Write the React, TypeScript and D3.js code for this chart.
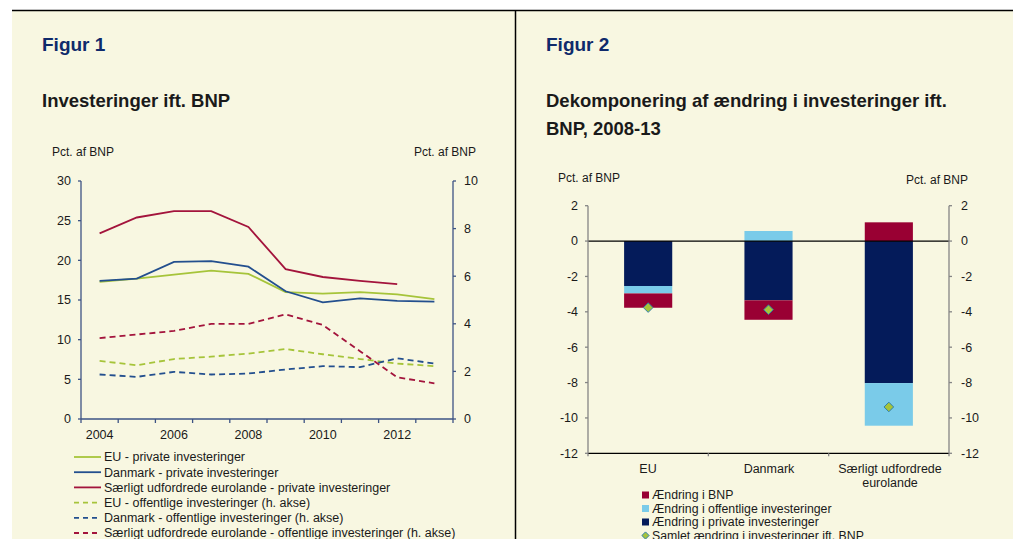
import React from 'react';
import * as d3 from 'd3';

const years = ['2004', '2005', '2006', '2007', '2008', '2009', '2010', '2011', '2012', '2013'];
const yearLabels = ['2004', '2006', '2008', '2010', '2012'];

// private investeringer (left axis), pct. af BNP
const euPrivate = [17.3, 17.7, 18.2, 18.7, 18.3, 16.0, 15.8, 16.0, 15.7, 15.1];
const dkPrivate = [17.4, 17.7, 19.8, 19.9, 19.2, 16.1, 14.7, 15.2, 14.9, 14.8];
const sePrivate = [23.4, 25.4, 26.2, 26.2, 24.2, 18.9, 17.9, 17.4, 17.0, null];
// offentlige investeringer (right axis)
const euPublic = [2.44, 2.26, 2.52, 2.62, 2.75, 2.94, 2.72, 2.52, 2.33, 2.22];
const dkPublic = [1.87, 1.77, 1.98, 1.87, 1.91, 2.08, 2.22, 2.18, 2.55, 2.33];
const sePublic = [3.4, 3.55, 3.7, 4.0, 4.0, 4.4, 3.95, 2.85, 1.75, 1.5];

const leftTicks = [0, 5, 10, 15, 20, 25, 30];
const rightTicks = [0, 2, 4, 6, 8, 10];

// Figur 2
const groups = ['EU', 'Danmark', 'Særligt udfordrede eurolande'];
const chgPrivate = [-2.54, -3.35, -8.03];
const chgPublic = [-0.42, 0.57, -2.41];
const chgBNP = [-0.81, -1.1, 1.06];
const chgTotal = [-3.76, -3.88, -9.38];
const barTicks = [2, 0, -2, -4, -6, -8, -10, -12];

const C = {
  bg: '#f8f7e1',
  green: '#a6c43a',
  blue: '#234f8e',
  red: '#a3143c',
  navy: '#041b5a',
  light: '#7acbe9',
  burgundy: '#990033',
  axis1: '#3d5384',
  axis2: '#858585',
  text: '#1a1a1a',
  title: '#0f2a6b',
};

const font = 'Arial, "Liberation Sans", sans-serif';

// diamond marker: square turned 45 degrees
const diamondPath = (r: number) => `M0,${-r}L${r},0L0,${r}L${-r},0Z`;

function Figure1() {
  const x = d3.scaleBand().domain(years).range([81, 453]);
  const yL = d3.scaleLinear().domain([0, 30]).range([419, 181]);
  const yR = d3.scaleLinear().domain([0, 10]).range([419, 181]);
  const cx = (i: number) => (x(years[i]) as number) + x.bandwidth() / 2;

  const mk = (vals: (number | null)[], y: d3.ScaleLinear<number, number>) =>
    d3.line<number | null>()
      .defined((d) => d !== null)
      .x((_, i) => cx(i))
      .y((d) => y(d as number))(vals) as string;

  const series = [
    { name: 'EU - private investeringer', vals: euPrivate, y: yL, color: C.green, dash: false },
    { name: 'Danmark - private investeringer', vals: dkPrivate, y: yL, color: C.blue, dash: false },
    { name: 'Særligt udfordrede eurolande - private investeringer', vals: sePrivate, y: yL, color: C.red, dash: false },
    { name: 'EU - offentlige investeringer (h. akse)', vals: euPublic, y: yR, color: C.green, dash: true },
    { name: 'Danmark - offentlige investeringer (h. akse)', vals: dkPublic, y: yR, color: C.blue, dash: true },
    { name: 'Særligt udfordrede eurolande - offentlige investeringer (h. akse)', vals: sePublic, y: yR, color: C.red, dash: true },
  ];

  const bounds = years.map((yr) => x(yr) as number).concat([453]);

  return (
    <g fontFamily={font}>
      <text x={42} y={51} fontSize={19} fontWeight="bold" fill={C.title}>Figur 1</text>
      <text x={42} y={107} fontSize={18.5} fontWeight="bold" fill={C.text}>Investeringer ift. BNP</text>
      <text x={52} y={156} fontSize={12} fill={C.text}>Pct. af BNP</text>
      <text x={476} y={156} fontSize={12} fill={C.text} textAnchor="end">Pct. af BNP</text>

      {/* axes */}
      <line x1={81} x2={81} y1={181} y2={419} stroke={C.axis1} strokeWidth={1.3} />
      <line x1={453} x2={453} y1={181} y2={419} stroke={C.axis1} strokeWidth={1.3} />
      <line x1={81} x2={453} y1={419} y2={419} stroke={C.axis1} strokeWidth={1.3} />
      {leftTicks.map((t) => (
        <g key={'l' + t}>
          <line x1={78} x2={81} y1={yL(t)} y2={yL(t)} stroke={C.axis1} strokeWidth={1.3} />
          <text x={71} y={yL(t)} dy="0.35em" textAnchor="end" fontSize={12.5} fill={C.text}>{t}</text>
        </g>
      ))}
      {rightTicks.map((t) => (
        <g key={'r' + t}>
          <line x1={453} x2={456} y1={yR(t)} y2={yR(t)} stroke={C.axis1} strokeWidth={1.3} />
          <text x={464} y={yR(t)} dy="0.35em" fontSize={12.5} fill={C.text}>{t}</text>
        </g>
      ))}
      {bounds.map((b, i) => (
        <line key={'b' + i} x1={b} x2={b} y1={419} y2={423} stroke={C.axis1} strokeWidth={1.3} />
      ))}
      {yearLabels.map((yr) => (
        <text key={yr} x={(x(yr) as number) + x.bandwidth() / 2} y={439} textAnchor="middle" fontSize={12.5} fill={C.text}>{yr}</text>
      ))}

      {series.map((s) => (
        <path key={s.name} d={mk(s.vals, s.y)} fill="none" stroke={s.color} strokeWidth={1.8}
          strokeDasharray={s.dash ? '6,4' : undefined} />
      ))}

      {/* legend */}
      {series.map((s, i) => {
        const ly = 457 + i * 15.2;
        return (
          <g key={'lg' + i}>
            <line x1={74} x2={101} y1={ly} y2={ly} stroke={s.color} strokeWidth={1.8}
              strokeDasharray={s.dash ? '5,4' : undefined} />
            <text x={104} y={ly} dy="0.35em" fontSize={12.5} fill={C.text}>{s.name}</text>
          </g>
        );
      })}
    </g>
  );
}

function Figure2() {
  const x = d3.scaleBand().domain(groups).range([588, 949]);
  const y = d3.scaleLinear().domain([-12, 2]).range([453.3, 205.7]);
  const barW = x.bandwidth() * 0.4;

  const rows = groups.map((g, i) => ({ group: g, priv: chgPrivate[i], pub: chgPublic[i], bnp: chgBNP[i] }));
  const keys = ['priv', 'pub', 'bnp'];
  const colors: Record<string, string> = { priv: C.navy, pub: C.light, bnp: C.burgundy };
  const stacked = d3.stack<any>().keys(keys).offset(d3.stackOffsetDiverging)(rows);

  const bounds = groups.map((g) => x(g) as number).concat([949]);

  const legend = [
    { label: 'Ændring i BNP', color: C.burgundy },
    { label: 'Ændring i offentlige investeringer', color: C.light },
    { label: 'Ændring i private investeringer', color: C.navy },
  ];

  return (
    <g fontFamily={font}>
      <text x={546} y={51} fontSize={19} fontWeight="bold" fill={C.title}>Figur 2</text>
      <text x={546} y={107} fontSize={18.5} fontWeight="bold" fill={C.text}>Dekomponering af ændring i investeringer ift.</text>
      <text x={546} y={135} fontSize={18.5} fontWeight="bold" fill={C.text}>BNP, 2008-13</text>
      <text x={558} y={182} fontSize={12} fill={C.text}>Pct. af BNP</text>
      <text x={968} y={184} fontSize={12} fill={C.text} textAnchor="end">Pct. af BNP</text>

      {stacked.map((s) => (
        <g key={s.key} fill={colors[s.key]}>
          {s.map((d, i) => {
            const cxp = (x(groups[i]) as number) + x.bandwidth() / 2;
            return (
              <rect key={i} x={cxp - barW / 2} width={barW}
                y={y(Math.max(d[0], d[1]))} height={Math.abs(y(d[0]) - y(d[1]))} />
            );
          })}
        </g>
      ))}

      <line x1={588} x2={949} y1={y(0)} y2={y(0)} stroke="#000" strokeWidth={1.2} />
      <line x1={588} x2={949} y1={y(-12)} y2={y(-12)} stroke="#000" strokeWidth={1.2} />
      <line x1={588} x2={588} y1={y(2)} y2={y(-12)} stroke={C.axis2} strokeWidth={1.3} />
      <line x1={949} x2={949} y1={y(2)} y2={y(-12)} stroke={C.axis2} strokeWidth={1.3} />
      {barTicks.map((t) => (
        <g key={'t' + t}>
          <line x1={585} x2={588} y1={y(t)} y2={y(t)} stroke={C.axis2} strokeWidth={1.3} />
          <line x1={949} x2={952} y1={y(t)} y2={y(t)} stroke={C.axis2} strokeWidth={1.3} />
          <text x={578} y={y(t)} dy="0.35em" textAnchor="end" fontSize={12.5} fill={C.text}>{t}</text>
          <text x={961} y={y(t)} dy="0.35em" fontSize={12.5} fill={C.text}>{t}</text>
        </g>
      ))}
      {bounds.map((b, i) => (
        <line key={'b' + i} x1={b} x2={b} y1={y(-12)} y2={y(-12) + 3} stroke={C.axis2} strokeWidth={1.3} />
      ))}

      {chgTotal.map((v, i) => (
        <path key={'d' + i} d={diamondPath(4.8)}
          transform={`translate(${(x(groups[i]) as number) + x.bandwidth() / 2},${y(v)})`}
          fill={C.green} stroke="#2f7fa8" strokeWidth={1} />
      ))}

      <text x={648} y={473} textAnchor="middle" fontSize={12.5} fill={C.text}>EU</text>
      <text x={769} y={473} textAnchor="middle" fontSize={12.5} fill={C.text}>Danmark</text>
      <text x={890} y={473} textAnchor="middle" fontSize={12.5} fill={C.text}>Særligt udfordrede</text>
      <text x={890} y={487} textAnchor="middle" fontSize={12.5} fill={C.text}>eurolande</text>

      {legend.map((l, i) => (
        <g key={l.label}>
          <rect x={642} y={495 + i * 13.5 - 3.5} width={7} height={7} fill={l.color} />
          <text x={652} y={495 + i * 13.5} dy="0.35em" fontSize={12.3} fill={C.text}>{l.label}</text>
        </g>
      ))}
      <path d={diamondPath(3.6)}
        transform={`translate(645.5,${495 + 3 * 13.5})`} fill={C.green} stroke="#2f7fa8" strokeWidth={1} />
      <text x={652} y={495 + 3 * 13.5} dy="0.35em" fontSize={12.3} fill={C.text}>Samlet ændring i investeringer ift. BNP</text>
    </g>
  );
}

export default function App() {
  return (
    <svg width={1013} height={539} style={{ position: 'absolute', left: 0, top: 0 }}>
      <rect x={0} y={0} width={1013} height={539} fill="#fff" />
      <rect x={12} y={10} width={1001} height={529} fill={C.bg} />
      <line x1={12} x2={1013} y1={10.5} y2={10.5} stroke="#000" strokeWidth={1.5} />
      <line x1={515.5} x2={515.5} y1={10} y2={539} stroke="#000" strokeWidth={1.5} />
      <Figure1 />
      <Figure2 />
    </svg>
  );
}
